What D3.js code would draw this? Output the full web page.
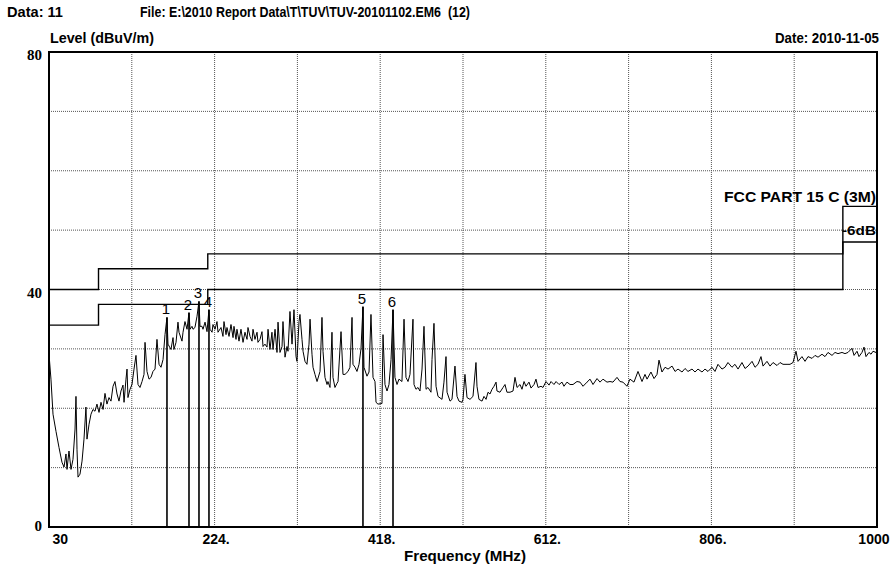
<!DOCTYPE html>
<html>
<head>
<meta charset="utf-8">
<script src="https://cdn.jsdelivr.net/npm/d3@7"></script>
<style>
  body { margin: 0; background: #fff; }
  svg text { fill: #000; }
</style>
</head>
<body>
<div id="chart"></div>
<script>
// ---- data ----
const trace = [
  [30,29.1],[32.3,24.9],[34.7,19.0],[38.2,16.1],[41.7,13.4],[45.2,10.9],[47.6,10.1],[49.9,12.3],[51.1,9.7],[53.4,12.8],
  [55.8,9.7],[58.1,11.4],[60.5,16.5],[61.6,22.0],[62.8,13.1],[64.0,8.4],[66.3,8.9],[68.7,11.1],[71.0,14.8],[73.3,20.2],
  [74.5,14.8],[76.9,17.3],[79.2,19.0],[81.5,19.8],[83.9,19.5],[86.2,20.7],[88.6,19.3],[90.9,21.0],[93.3,19.8],[95.6,22.5],
  [97.9,20.7],[100.3,21.8],[102.6,21.2],[105.0,23.7],[107.3,24.5],[109.7,22.4],[112.0,21.2],[114.3,22.9],[116.7,23.9],[117.9,21.0],
  [120.2,24.9],[121.4,26.6],[122.5,21.8],[124.9,23.2],[127.2,24.0],[129.6,26.6],[131.9,28.9],[134.3,24.0],[136.6,23.5],[139.0,24.5],
  [141.3,25.7],[142.5,31.1],[144.8,26.2],[147.2,24.9],[149.5,25.2],[151.8,26.2],[154.2,26.6],[156.5,31.6],[158.9,27.4],[161.2,26.9],
  [163.6,28.2],[165.9,32.4],[168.2,35.3],[169.4,30.8],
  [172.9,29.9],[175.3,31.9],[176.4,29.9],[178.8,31.1],[181.1,34.5],[182.3,32.8],[185.8,31.3],[187.0,32.8],[189.3,34.6],[191.7,33.3],
  [194.0,36.1],[195.2,33.3],[197.5,33.8],[198.7,33.3],[201.0,33.6],[203.4,35.5],[205.7,38.0],[206.9,33.8],[209.2,33.8],[210.4,33.3],
  [212.8,34.5],[215.1,32.9],[217.4,36.6],[218.6,33.3],[221.0,32.8],[222.1,34.1],[224.5,33.3],[226.8,34.6],[228.0,32.8],[231.5,33.6],
  [233.8,32.1],[235.0,34.6],[237.4,32.4],[238.5,33.6],[240.9,32.1],[243.2,34.1],[245.6,31.9],[246.7,33.8],[249.1,31.6],[250.2,33.3],
  [252.6,31.3],[254.9,33.3],[257.3,31.1],[259.6,32.8],[262.0,31.6],[263.1,33.6],[265.5,32.1],[267.8,31.3],[269.0,33.3],[271.3,31.6],
  [273.7,32.8],[274.8,31.1],[277.2,31.6],[279.5,32.9],[280.7,30.4],[283.0,30.8],[285.4,30.3],[286.6,33.3],[288.9,29.9],[291.2,32.8],
  [292.4,29.9],[294.8,33.3],[297.1,29.4],[298.3,34.5],[300.6,29.4],[303.0,30.4],[304.1,34.6],[306.5,28.6],[308.8,30.4],[310.0,29.6],
  [312.3,36.3],[314.7,30.8],[317.0,36.6],[319.4,28.7],[320.5,27.9],[322.9,34.6],[324.0,35.8],
  [326.4,31.6],[327.6,29.6],[329.9,27.9],[332.2,27.4],[334.6,30.8],[335.8,35.0],[338.1,29.1],[339.3,26.9],[341.6,25.7],[344.0,24.5],
  [347.5,26.2],[349.8,35.3],[351.0,29.6],[353.3,25.2],[355.7,24.0],[356.8,24.5],[359.2,23.5],[361.5,32.8],[362.7,25.2],[365.0,23.5],
  [367.4,24.2],[368.6,24.5],[372.1,32.9],[374.4,25.7],[376.8,25.7],[380.3,26.2],[382.6,26.9],[385.0,35.3],[386.1,27.4],[388.5,26.9],
  [390.8,26.2],[393.2,27.4],[395.5,30.0],[397.8,37.1],[399.0,26.9],[402.5,25.4],[404.9,26.1],[407.2,35.8],[409.6,25.2],[411.9,24.5],
  [413.1,21.0],[415.4,20.7],[420.1,20.8],[421.3,32.4],[423.6,24.0],[426.0,22.9],[428.3,24.0],[430.7,28.2],[433.0,36.6],[435.3,25.2],
  [437.7,24.0],[440.0,24.9],[443.5,24.5],[445.9,35.0],[448.2,25.2],[450.6,24.5],[452.9,25.7],[456.4,35.0],[457.6,24.0],
  [459.9,23.2],[462.3,23.5],[464.6,22.9],[467.0,26.6],[469.3,33.8],[471.7,23.2],[474.0,23.5],[477.5,22.7],[478.7,28.2],[481.0,34.3],
  [483.4,23.7],[485.7,22.0],[490.4,21.5],[492.7,24.4],[495.1,28.7],[496.3,22.7],[499.8,21.2],[502.1,21.5],[505.6,27.1],[508.0,22.0],
  [510.3,21.2],[513.8,21.0],[515.0,21.5],[517.3,25.7],[519.7,21.8],[523.2,21.5],[526.7,22.0],[530.2,27.7],[531.4,23.7],[533.7,21.5],
  [537.3,21.2],[539.6,22.0],[542.0,21.5],[544.3,22.7],[546.6,22.4],[549.0,23.2],[551.3,23.7],[553.7,24.4],[554.8,22.9],[558.3,22.7],
  [561.9,23.5],[564.2,24.0],[566.5,22.7],[570.1,22.7],[573.6,22.9],[575.9,25.2],[578.3,23.5],[581.8,24.0],[584.1,23.2],[586.5,24.5],
  [588.8,23.7],[592.3,24.4],[594.7,23.4],[598.2,24.0],[600.5,24.9],[602.9,23.5],[606.4,23.7],[608.7,23.5],[612.2,24.5],[615.8,23.9],
  [618.1,24.5],[621.6,24.0],[624.0,24.5],[627.5,24.0],[631.0,24.4],[633.3,23.7],[636.8,24.4],
  [640.4,24.0],[643.9,24.0],[648.5,24.5],[652.1,24.4],[655.6,23.7],[660.3,24.4],[663.8,24.9],[667.3,24.0],[672.0,25.0],[675.5,24.4],
  [679.0,24.9],[683.7,24.4],[687.2,24.5],[690.7,24.4],[695.4,25.2],[698.9,24.5],[702.4,24.4],[707.1,23.7],[710.6,24.9],[715.3,24.4],
  [720.0,26.2],[724.7,24.5],[728.2,25.7],[730.6,24.9],[735.2,26.1],[738.8,25.0],[742.3,25.7],[744.6,28.1],[748.1,26.1],[751.7,26.9],
  [755.2,26.6],[759.9,27.1],[763.4,26.2],[766.9,26.6],[771.6,26.1],[775.1,26.7],[778.6,26.2],[783.3,26.6],[786.8,26.1],[790.3,26.6],
  [795.0,26.1],[798.5,26.6],[802.0,26.2],[806.7,26.9],[810.2,26.2],[813.7,27.4],[818.4,26.6],[821.9,26.9],[825.4,27.7],[830.1,26.9],
  [833.6,27.4],[837.2,26.6],[841.8,27.7],[845.4,26.7],[848.9,27.1],[853.6,27.9],[857.1,26.9],[860.6,27.4],[864.1,28.7],[866.5,27.1],
  [871.1,27.9],[874.7,27.1],[878.2,27.7],[882.9,27.2],[886.4,27.7],[889.9,27.4],[894.6,27.4],[898.1,27.4],[901.6,27.7],[905.1,29.6],
  [907.5,27.9],[912.1,28.7],[915.7,27.9],[919.2,28.7],[923.9,28.4],[927.4,28.9],[930.9,28.6],[935.6,29.1],[939.1,28.7],[942.6,29.4],
  [947.3,28.9],[950.8,29.4],[954.3,29.2],[959.0,29.4],[962.5,29.2],[966.0,29.4],[970.7,30.1],[973.1,28.9],[976.6,29.6],[978.9,28.7],
  [982.4,29.4],[984.8,30.3],[987.1,28.7],[990.6,29.4],[993.0,29.1],[995.3,29.6],[998.8,29.4],[1000,29.7]
];

// FCC Part 15 C, 3 m limit (step edges) and the -6 dB margin line
const limitFreq  = [30, 88, 216, 960, 1000];
const limitLevel = [40, 43.5, 46, 54, 54];
const marginDb = 6;

// peak markers
const markerFreq  = [168.2, 194.0, 205.7, 217.4, 397.8, 433.0];
const markerLevel = [35.3, 36.1, 38.0, 36.6, 37.1, 36.6];
const markerLabel = ['1', '2', '3', '4', '5', '6'];

const xTickValues = [30, 224, 418, 612, 806, 1000];
const xTickLabels = ['30', '224.', '418.', '612.', '806.', '1000'];
const yTickValues = [0, 40, 80];
const xGridStep = 97;
const yGridStep = 10;

// ---- layout ----
const totalW = 894, totalH = 566;
const margin = { top: 52, right: 17, bottom: 39, left: 49 };
const width = totalW - margin.left - margin.right;
const height = totalH - margin.top - margin.bottom;

const sans = '"Liberation Sans", Arial, sans-serif';
const serif = '"Liberation Serif", "Times New Roman", serif';

const svg = d3.select('#chart').append('svg')
  .attr('width', totalW).attr('height', totalH);

// header texts (print uses a condensed bold face)
function header(xPos, yPos, txt, len, anchor) {
  const t = svg.append('text').attr('x', xPos).attr('y', yPos)
    .attr('text-anchor', anchor || 'start')
    .attr('font-family', sans).attr('font-weight', 'bold').attr('font-size', '14px')
    .attr('xml:space', 'preserve')
    .text(txt);
  if (len) t.attr('textLength', len).attr('lengthAdjust', 'spacingAndGlyphs');
}
header(7, 17, 'Data: 11', 56);
header(140, 17, 'File: E:\\2010 Report Data\\T\\TUV\\TUV-20101102.EM6  (12)', 330);
header(50, 43, 'Level (dBuV/m)', 104);
header(879, 43, 'Date: 2010-11-05', 104, 'end');

const g = svg.append('g').attr('transform', `translate(${margin.left},${margin.top})`);

const x = d3.scaleLinear().domain([30, 1000]).range([0, width]);
const y = d3.scaleLinear().domain([0, 80]).range([height, 0]);

// grid
const xGrid = d3.range(30 + xGridStep, 1000, xGridStep);
const yGrid = d3.range(yGridStep, 80, yGridStep);
g.append('g').selectAll('line').data(xGrid).join('line')
  .attr('x1', d => x(d)).attr('x2', d => x(d))
  .attr('y1', 0).attr('y2', height)
  .attr('stroke', '#555').attr('stroke-width', 1).attr('stroke-dasharray', '1,1');
g.append('g').selectAll('line').data(yGrid).join('line')
  .attr('x1', 0).attr('x2', width)
  .attr('y1', d => y(d)).attr('y2', d => y(d))
  .attr('stroke', '#555').attr('stroke-width', 1).attr('stroke-dasharray', '1,1');

// limit lines
const limitPts = limitFreq.map((f, i) => [f, limitLevel[i]]);
const stepLine = d3.line().x(d => x(d[0])).y(d => y(d[1])).curve(d3.curveStepAfter);
g.append('path').datum(limitPts).attr('d', stepLine)
  .attr('fill', 'none').attr('stroke', '#000').attr('stroke-width', 1.4);
g.append('path').datum(limitPts.map(d => [d[0], d[1] - marginDb])).attr('d', stepLine)
  .attr('fill', 'none').attr('stroke', '#000').attr('stroke-width', 1.4);

g.append('text')
  .attr('x', x(1000) - 1).attr('y', y(limitLevel[3]) - 4)
  .attr('text-anchor', 'end')
  .attr('font-family', sans).attr('font-weight', 'bold').attr('font-size', '14px')
  .attr('textLength', 152).attr('lengthAdjust', 'spacingAndGlyphs')
  .text('FCC PART 15 C (3M)');
g.append('text')
  .attr('x', x(1000) - 1).attr('y', y(50) + 5)
  .attr('text-anchor', 'end')
  .attr('font-family', sans).attr('font-weight', 'bold').attr('font-size', '13px')
  .attr('textLength', 34).attr('lengthAdjust', 'spacingAndGlyphs')
  .text('-6dB');

// spectrum trace
const line = d3.line().x(d => x(d[0])).y(d => y(d[1]));
g.append('path').datum(trace).attr('d', line)
  .attr('fill', 'none').attr('stroke', '#000').attr('stroke-width', 1)
  .attr('stroke-linejoin', 'round');

// markers
const markers = markerFreq.map((f, i) => ({ f, v: markerLevel[i], label: markerLabel[i] }));
g.append('g').selectAll('line').data(markers).join('line')
  .attr('x1', d => x(d.f)).attr('x2', d => x(d.f))
  .attr('y1', d => y(d.v)).attr('y2', y(0))
  .attr('stroke', '#000').attr('stroke-width', 1.6);
g.append('g').selectAll('text').data(markers).join('text')
  .attr('x', d => x(d.f) - 1).attr('y', d => y(d.v) - 3)
  .attr('text-anchor', 'middle')
  .attr('font-family', sans).attr('font-size', '15px')
  .text(d => d.label);

// frame
g.append('rect').attr('width', width).attr('height', height)
  .attr('fill', 'none').attr('stroke', '#000').attr('stroke-width', 2);

// axes
const xAxis = g.append('g').attr('transform', `translate(0,${height})`)
  .call(d3.axisBottom(x).tickValues(xTickValues)
    .tickFormat((d, i) => xTickLabels[i]).tickSize(0).tickPadding(7));
xAxis.select('.domain').remove();
xAxis.selectAll('text')
  .attr('font-family', sans).attr('font-weight', 'bold').attr('font-size', '14px').attr('fill', '#000')
  .attr('text-anchor', (d, i) => i === 0 ? 'start' : (i === xTickValues.length - 1 ? 'end' : 'middle'))
  .attr('dx', (d, i) => i === 0 ? 3 : (i === xTickValues.length - 1 ? 12 : 1));

const yAxis = g.append('g')
  .call(d3.axisLeft(y).tickValues(yTickValues).tickSize(0).tickPadding(7));
yAxis.select('.domain').remove();
yAxis.selectAll('text')
  .attr('font-family', serif).attr('font-weight', 'bold').attr('font-size', '15px').attr('fill', '#000')
  .attr('dy', (d) => d === 0 ? '0.2em' : '0.5em');

g.append('text')
  .attr('x', width / 2 + 2).attr('y', height + 34)
  .attr('text-anchor', 'middle')
  .attr('font-family', sans).attr('font-weight', 'bold').attr('font-size', '14px')
  .attr('textLength', 122).attr('lengthAdjust', 'spacingAndGlyphs')
  .text('Frequency (MHz)');
</script>
</body>
</html>
